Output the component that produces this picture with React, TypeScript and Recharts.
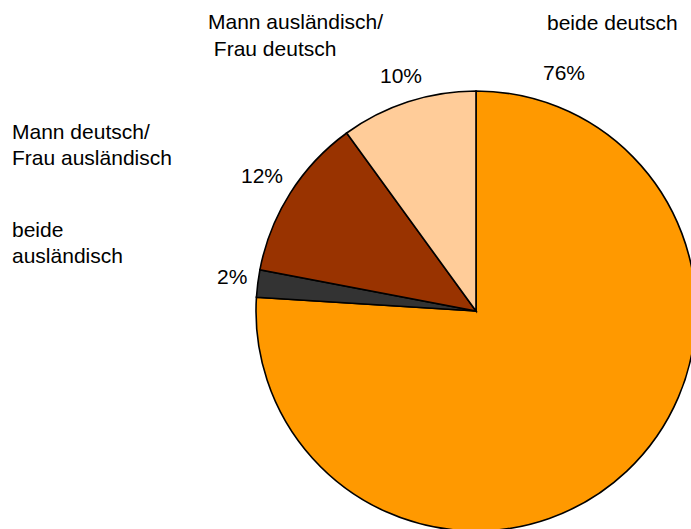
import React from "react";
import { PieChart, Pie, Cell } from "recharts";

const categories = [
  "beide deutsch",
  "beide ausländisch",
  "Mann deutsch/Frau ausländisch",
  "Mann ausländisch/Frau deutsch",
];
const shares = [76, 2, 12, 10];
const colors = ["#FF9900", "#333333", "#993300", "#FFCC99"];
const nameLines = [
  ["beide deutsch"],
  ["beide", "ausländisch"],
  ["Mann deutsch/", "Frau ausländisch"],
  ["Mann ausländisch/", " Frau deutsch"],
];

const data = categories.map((name, i) => ({ name, value: shares[i] }));

// layout (positions only)
const nameAnchors = [
  { x: 547, y: 30, dy: 26 },
  { x: 12, y: 237, dy: 26 },
  { x: 12, y: 139, dy: 26 },
  { x: 208, y: 29, dy: 27 },
];
const pctAnchors = [
  { x: 543, y: 80 },
  { x: 217, y: 284 },
  { x: 241, y: 183 },
  { x: 380, y: 83 },
];

const W = 691;
const H = 529;
const FONT = "'Liberation Sans', Arial, sans-serif";
const FS = 21;

export default function App() {
  return (
    <div style={{ position: "absolute", left: 0, top: 0, width: W, height: H, overflow: "hidden", background: "#fff" }}>
      <PieChart width={W} height={H} margin={{ top: 0, right: 0, bottom: 0, left: 0 }} style={{ position: "absolute", left: 0, top: 0 }}>
        <Pie
          data={data}
          dataKey="value"
          cx={476}
          cy={311}
          outerRadius={220}
          startAngle={90}
          endAngle={-270}
          stroke="#000"
          strokeWidth={1.6}
          isAnimationActive={false}
          label={false}
          labelLine={false}
        >
          {data.map((d, i) => (
            <Cell key={d.name} fill={colors[i]} />
          ))}
        </Pie>
      </PieChart>
      <svg width={W} height={H} style={{ position: "absolute", left: 0, top: 0, pointerEvents: "none" }}>
        {nameLines.map((lines, i) => (
          <text key={"n" + i} fontFamily={FONT} fontSize={FS} fill="#000">
            {lines.map((ln, j) => (
              <tspan key={j} x={nameAnchors[i].x} y={nameAnchors[i].y + j * nameAnchors[i].dy} style={{ whiteSpace: "pre" }}>
                {ln}
              </tspan>
            ))}
          </text>
        ))}
        {shares.map((v, i) => (
          <text key={"p" + i} x={pctAnchors[i].x} y={pctAnchors[i].y} fontFamily={FONT} fontSize={FS} fill="#000">
            {v + "%"}
          </text>
        ))}
      </svg>
    </div>
  );
}
